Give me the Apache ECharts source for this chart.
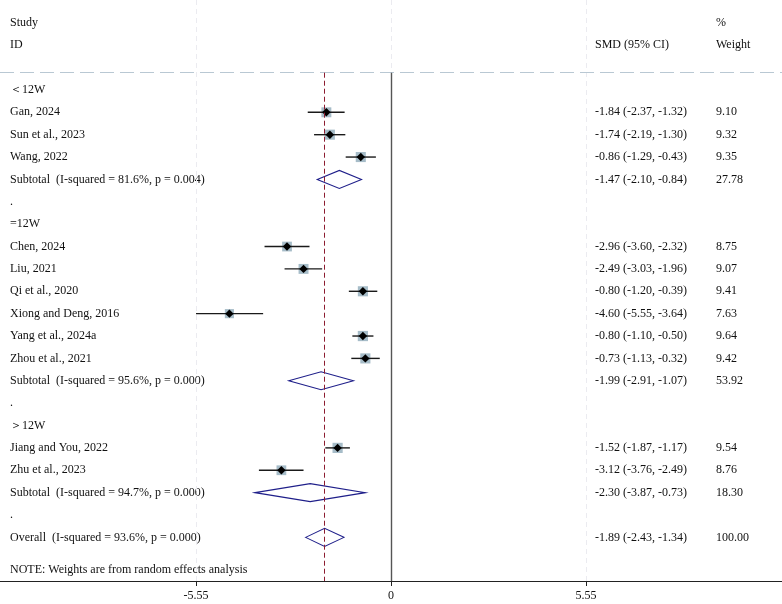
<!DOCTYPE html>
<html>
<head>
<meta charset="utf-8">
<script src="https://cdn.jsdelivr.net/npm/echarts@6/dist/echarts.min.js"></script>
<style>
  html, body { margin: 0; padding: 0; background: #fff; }
  #chart { width: 782px; height: 604px; }
</style>
</head>
<body>
<div id="chart"></div>
<script>
// rows of the forest plot, top to bottom (row index = position)
var rowLabels = [
  '＜12W', 'Gan, 2024', 'Sun et al., 2023', 'Wang, 2022',
  'Subtotal  (I-squared = 81.6%, p = 0.004)', '.',
  '=12W', 'Chen, 2024', 'Liu, 2021', 'Qi et al., 2020', 'Xiong and Deng, 2016',
  'Yang et al., 2024a', 'Zhou et al., 2021',
  'Subtotal  (I-squared = 95.6%, p = 0.000)', '.',
  '＞12W', 'Jiang and You, 2022', 'Zhu et al., 2023',
  'Subtotal  (I-squared = 94.7%, p = 0.000)', '.',
  'Overall  (I-squared = 93.6%, p = 0.000)'
];
var rowKind = ['group','study','study','study','pooled','gap',
  'group','study','study','study','study','study','study','pooled','gap',
  'group','study','study','pooled','gap','pooled'];
var smd    = [null,-1.84,-1.74,-0.86,-1.47,null,null,-2.96,-2.49,-0.80,-4.60,-0.80,-0.73,-1.99,null,null,-1.52,-3.12,-2.30,null,-1.89];
var ciLow  = [null,-2.37,-2.19,-1.29,-2.10,null,null,-3.60,-3.03,-1.20,-5.55,-1.10,-1.13,-2.91,null,null,-1.87,-3.76,-3.87,null,-2.43];
var ciHigh = [null,-1.32,-1.30,-0.43,-0.84,null,null,-2.32,-1.96,-0.39,-3.64,-0.50,-0.32,-1.07,null,null,-1.17,-2.49,-0.73,null,-1.34];
var weight = [null,9.10,9.32,9.35,27.78,null,null,8.75,9.07,9.41,7.63,9.64,9.42,53.92,null,null,9.54,8.76,18.30,null,100.00];

var axisTicks = [-5.55, 0, 5.55];
var overallSMD = -1.89;
var noteText = 'NOTE: Weights are from random effects analysis';

var FONT = '"Times New Roman", "Liberation Serif", serif';
var HEADER_Y = -0.77, Y_MIN = -4.02, Y_MAX = 21.95;

var studyData = [], pooledData = [], textData = [];
rowLabels.forEach(function (lab, i) {
  var smdTxt = '', wTxt = '';
  if (smd[i] !== null) {
    smdTxt = smd[i].toFixed(2) + ' (' + ciLow[i].toFixed(2) + ', ' + ciHigh[i].toFixed(2) + ')';
    wTxt = weight[i].toFixed(2);
  }
  textData.push([i, lab, smdTxt, wTxt]);
  if (rowKind[i] === 'study') studyData.push([i, smd[i], ciLow[i], ciHigh[i], weight[i]]);
  if (rowKind[i] === 'pooled') pooledData.push([i, smd[i], ciLow[i], ciHigh[i]]);
});
// headers and note
textData.push([-3, 'Study', '', '%']);
textData.push([-2, 'ID', 'SMD (95% CI)', 'Weight']);
textData.push([21.45, noteText, '', '']);

function renderStudy(params, api) {
  var k = api.value(0);
  var c = api.coord([api.value(1), k]);
  var l = api.coord([api.value(2), k]);
  var h = api.coord([api.value(3), k]);
  var s = 3.3 * Math.sqrt(api.value(4));
  var d = 4.2;
  return { type: 'group', children: [
    { type: 'rect', shape: { x: c[0] - s / 2, y: c[1] - s / 2, width: s, height: s }, style: { fill: '#a6bcc8' } },
    { type: 'line', shape: { x1: l[0], y1: l[1], x2: h[0], y2: h[1] }, style: { stroke: '#1a1a1a', lineWidth: 1.4 } },
    { type: 'polygon', shape: { points: [[c[0], c[1] - d], [c[0] + d, c[1]], [c[0], c[1] + d], [c[0] - d, c[1]]] }, style: { fill: '#000' } }
  ]};
}

function renderPooled(params, api) {
  var k = api.value(0);
  var c = api.coord([api.value(1), k]);
  var l = api.coord([api.value(2), k]);
  var h = api.coord([api.value(3), k]);
  var hh = 9;
  return {
    type: 'polygon',
    shape: { points: [[l[0], c[1]], [c[0], c[1] - hh], [h[0], c[1]], [c[0], c[1] + hh]] },
    style: { fill: 'none', stroke: '#1f1f8a', lineWidth: 1.1 }
  };
}

function renderText(params, api) {
  var k = api.value(0);
  var y = api.coord([0, k])[1];
  var row = textData[params.dataIndex];
  var st = function (x, t) {
    return { type: 'text', x: x, y: y, style: { text: t, fill: '#111', font: '12px ' + FONT, textVerticalAlign: 'middle', textAlign: 'left' } };
  };
  return { type: 'group', children: [st(10, row[1]), st(595, row[2]), st(716, row[3])] };
}

var myChart = echarts.init(document.getElementById('chart'));

var option = {
  animation: false,
  grid: { left: 0, right: 0, top: 0, bottom: 23 },
  xAxis: {
    type: 'value',
    min: -11.13,
    max: 11.13,
    axisLine: { onZero: false, lineStyle: { color: '#222', width: 1 } },
    axisTick: { show: true, customValues: axisTicks, length: 5, lineStyle: { color: '#222' } },
    axisLabel: { customValues: axisTicks, fontFamily: FONT, fontSize: 12, color: '#111', margin: 9,
      formatter: function (v) { return v === 0 ? '0' : v.toFixed(2); } },
    splitLine: { show: false }
  },
  yAxis: { type: 'value', inverse: true, min: Y_MIN, max: Y_MAX, show: false },
  series: [
    {
      // guide lines
      type: 'line', data: [], silent: true,
      markLine: {
        symbol: 'none', silent: true, label: { show: false },
        data: [
          [{ coord: [axisTicks[0], Y_MIN], lineStyle: { color: '#ebebf0', type: [5, 4], width: 1 } }, { coord: [axisTicks[0], Y_MAX] }],
          [{ coord: [axisTicks[2], Y_MIN], lineStyle: { color: '#ebebf0', type: [5, 4], width: 1 } }, { coord: [axisTicks[2], Y_MAX] }],
          [{ coord: [0, Y_MIN], lineStyle: { color: '#ebebf0', type: [5, 4], width: 1 } }, { coord: [0, HEADER_Y] }],
          [{ coord: [-11.13, HEADER_Y], lineStyle: { color: '#b9c8d3', type: [14, 6], width: 1 } }, { coord: [11.13, HEADER_Y] }],
          [{ coord: [0, HEADER_Y], lineStyle: { color: '#555', type: 'solid', width: 1.4 } }, { coord: [0, Y_MAX] }],
          [{ coord: [overallSMD, HEADER_Y], lineStyle: { color: '#8c1c30', type: [5, 3], width: 1 } }, { coord: [overallSMD, Y_MAX] }]
        ]
      }
    },
    { type: 'custom', renderItem: renderStudy, data: studyData, silent: true },
    { type: 'custom', renderItem: renderPooled, data: pooledData, silent: true },
    { type: 'custom', renderItem: renderText, data: textData.map(function (r) { return [r[0]]; }), silent: true }
  ]
};

myChart.setOption(option);
</script>
</body>
</html>
